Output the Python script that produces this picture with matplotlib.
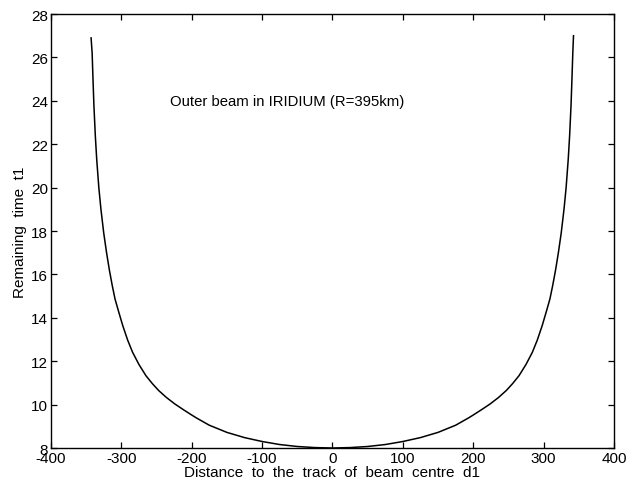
"""
残り時間 t1 とビーム中心軌跡までの距離 d1 の関係を描くスクリプト
"""
import matplotlib
matplotlib.use("Agg")
import matplotlib.pyplot as plt

# 距離 d1 [km] と残り時間 t1（左半分・右半分）
d1_left = [-343, -341.5, -340.5, -339, -337, -335, -332, -329, -325, -321,
           -317, -313, -309, -304, -298, -291, -284, -275, -265, -256,
           -247, -236, -224, -212, -200, -193, -175, -150, -125, -100,
           -75, -50, -25, 0]
t1_left = [26.9, 26.2, 25.2, 23.8, 22.4, 21.3, 20.0, 19.0, 17.9, 17.0,
           16.2, 15.5, 14.87, 14.3, 13.64, 12.97, 12.41, 11.85, 11.33, 10.97,
           10.65, 10.33, 10.03, 9.77, 9.52, 9.38, 9.05, 8.72, 8.48, 8.30,
           8.16, 8.07, 8.02, 8.0]

d1_right = [0, 25, 50, 75, 100, 125, 150, 175, 193, 200,
            212, 224, 236, 247, 256, 265, 275, 284, 291, 298,
            304, 309, 313, 317, 321, 325, 329, 332, 335, 337,
            339, 340.5, 341.5, 342.5]
t1_right = [8.0, 8.02, 8.07, 8.16, 8.30, 8.48, 8.72, 9.05, 9.38, 9.52,
            9.77, 10.03, 10.33, 10.65, 10.97, 11.33, 11.85, 12.41, 12.97, 13.64,
            14.3, 14.87, 15.5, 16.2, 17.0, 17.9, 19.0, 20.0, 21.3, 22.4,
            23.8, 25.2, 26.2, 27.0]

x_ticks = [-400, -300, -200, -100, 0, 100, 200, 300, 400]
y_ticks = [8, 10, 12, 14, 16, 18, 20, 22, 24, 26, 28]

plt.rcParams["font.family"] = ["Liberation Sans", "DejaVu Sans"]
plt.rcParams["font.size"] = 11
plt.rcParams["axes.unicode_minus"] = False

fig = plt.figure(figsize=(6.34, 4.85), dpi=100)
ax = fig.add_axes([0.0804, 0.0742, 0.888, 0.8948])

ax.plot(d1_left + d1_right[1:], t1_left + t1_right[1:],
        color="black", linewidth=1.1)
ax.text(-231, 24, "Outer beam in IRIDIUM (R=395km)", va="center", ha="left",
        fontsize=10.7)

ax.set_xlim(-400, 400)
ax.set_ylim(8, 28)
ax.set_xticks(x_ticks)
ax.set_yticks(y_ticks)
ax.tick_params(direction="in", top=True, right=True, length=4, width=0.9,
               pad=2, labelsize=11)
for s in ax.spines.values():
    s.set_linewidth(1.0)

ax.set_xlabel("Distance  to  the  track  of  beam  centre  d1", labelpad=0)
ax.set_ylabel("Remaining  time  t1", labelpad=3)

fig.savefig("out.png", dpi=100)
